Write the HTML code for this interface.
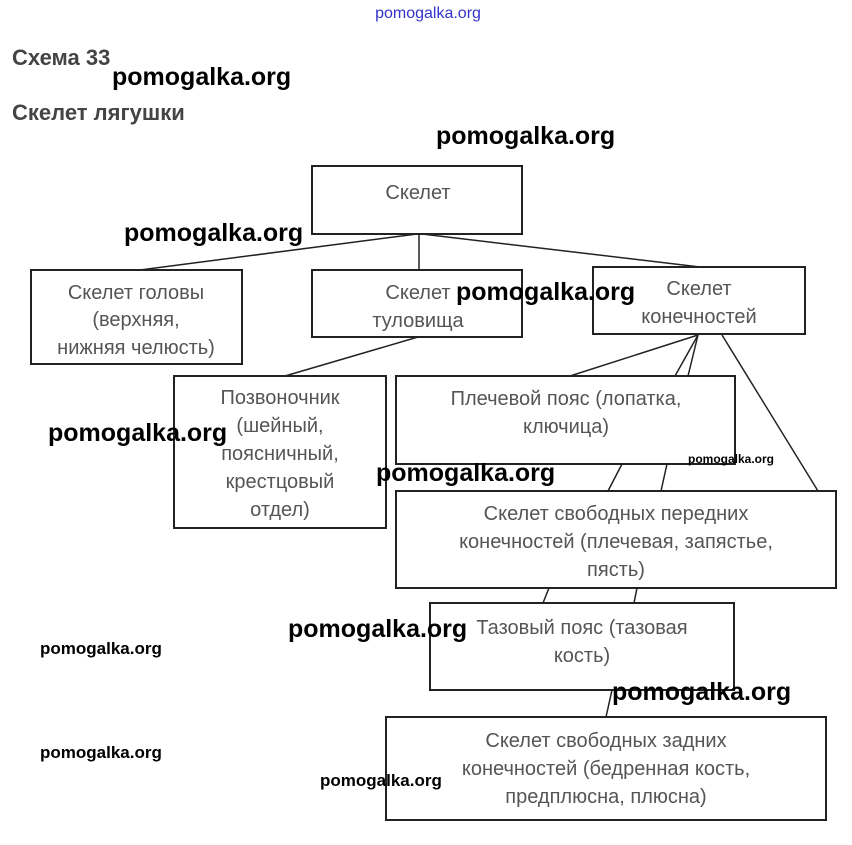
<!DOCTYPE html>
<html><head><meta charset="utf-8"><style>
body{margin:0;background:#fff;width:852px;height:840px;overflow:hidden}
svg text{font-family:"Liberation Sans",sans-serif}
.n{fill:#555;font-size:20px;text-anchor:middle}
.w{fill:#000;font-weight:bold;font-size:25px}
.ws{fill:#000;font-weight:bold;font-size:17px}
</style></head><body>
<svg width="852" height="840" xmlns="http://www.w3.org/2000/svg">
<text x="428" y="18" fill="#33c" font-size="16" text-anchor="middle">pomogalka.org</text>
<text x="12" y="65" fill="#444" font-size="22" font-weight="bold">Схема 33</text>
<text x="12" y="120" fill="#444" font-size="22" font-weight="bold">Скелет лягушки</text>
<g fill="none" stroke="#222" stroke-width="2">
<rect x="312" y="166" width="210" height="68"/>
<rect x="31" y="270" width="211" height="94"/>
<rect x="312" y="270" width="210" height="67"/>
<rect x="593" y="267" width="212" height="67"/>
<rect x="174" y="376" width="212" height="152"/>
<rect x="396" y="376" width="339" height="88"/>
<rect x="396" y="491" width="440" height="97"/>
<rect x="430" y="603" width="304" height="87"/>
<rect x="386" y="717" width="440" height="103"/>
</g>
<g stroke="#222" stroke-width="1.5">
<line x1="417" y1="234" x2="140" y2="270"/>
<line x1="419" y1="234" x2="419" y2="270"/>
<line x1="422" y1="234" x2="700" y2="267"/>
<line x1="418" y1="337" x2="285" y2="376"/>
<line x1="698" y1="335" x2="570" y2="376"/>
<line x1="698" y1="335" x2="675" y2="376"/>
<line x1="698" y1="335" x2="688" y2="376"/>
<line x1="722" y1="335" x2="818" y2="491"/>
<line x1="622" y1="464" x2="608" y2="491"/>
<line x1="667" y1="464" x2="661" y2="491"/>
<line x1="549" y1="588" x2="543" y2="603"/>
<line x1="637" y1="588" x2="634" y2="603"/>
<line x1="612" y1="690" x2="606" y2="717"/>
</g>
<text class="n" x="418" y="199">Скелет</text>
<text class="n" x="136" y="299">Скелет головы</text>
<text class="n" x="136" y="326">(верхняя,</text>
<text class="n" x="136" y="354">нижняя челюсть)</text>
<text class="n" x="418" y="299">Скелет</text>
<text class="n" x="418" y="327">туловища</text>
<text class="n" x="699" y="295">Скелет</text>
<text class="n" x="699" y="323">конечностей</text>
<text class="n" x="280" y="404">Позвоночник</text>
<text class="n" x="280" y="432">(шейный,</text>
<text class="n" x="280" y="460">поясничный,</text>
<text class="n" x="280" y="488">крестцовый</text>
<text class="n" x="280" y="516">отдел)</text>
<text class="n" x="566" y="405">Плечевой пояс (лопатка,</text>
<text class="n" x="566" y="433">ключица)</text>
<text class="n" x="616" y="520">Скелет свободных передних</text>
<text class="n" x="616" y="548">конечностей (плечевая, запястье,</text>
<text class="n" x="616" y="576">пясть)</text>
<text class="n" x="582" y="634">Тазовый пояс (тазовая</text>
<text class="n" x="582" y="662">кость)</text>
<text class="n" x="606" y="747">Скелет свободных задних</text>
<text class="n" x="606" y="775">конечностей (бедренная кость,</text>
<text class="n" x="606" y="803">предплюсна, плюсна)</text>
<text class="w" x="112" y="85">pomogalka.org</text>
<text class="w" x="436" y="144">pomogalka.org</text>
<text class="w" x="124" y="241">pomogalka.org</text>
<text class="w" x="456" y="300">pomogalka.org</text>
<text class="w" x="48" y="441">pomogalka.org</text>
<text class="w" x="376" y="481">pomogalka.org</text>
<text class="w" x="288" y="637">pomogalka.org</text>
<text class="w" x="612" y="700">pomogalka.org</text>
<text class="ws" x="688" y="463" style="font-size:12px">pomogalka.org</text>
<text class="ws" x="40" y="654">pomogalka.org</text>
<text class="ws" x="40" y="758">pomogalka.org</text>
<text class="ws" x="320" y="786">pomogalka.org</text>
</svg>
</body></html>
